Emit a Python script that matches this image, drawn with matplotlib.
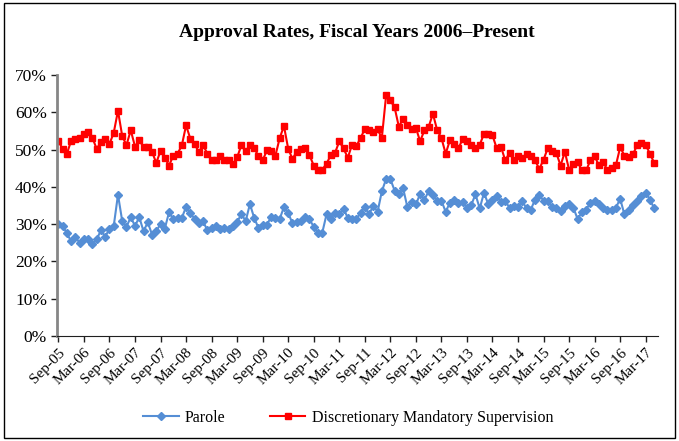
import numpy as np
import matplotlib
matplotlib.use('Agg')
import matplotlib.pyplot as plt
from matplotlib.patches import Rectangle

# === Monthly approval rates (%), Sep-05 .. May-17 ===
parole = [30.0, 29.6, 27.5, 25.4, 26.5, 25.0, 25.9, 25.9, 24.6, 25.9,
          28.4, 26.6, 28.8, 29.5, 37.9, 30.8, 29.3, 31.9, 29.5, 31.9,
          28.1, 30.5, 27.2, 28.1, 30.1, 28.8, 33.2, 31.4, 31.7, 31.7,
          34.6, 33.0, 31.4, 30.2, 30.8, 28.3, 29.0, 29.5, 28.8, 29.0,
          28.8, 29.5, 30.5, 32.8, 30.8, 35.4, 31.7, 29.0, 29.9, 29.9,
          31.9, 31.7, 31.4, 34.6, 33.0, 30.2, 30.6, 30.8, 32.0, 31.3,
          29.3, 27.7, 27.7, 32.6, 31.4, 33.0, 32.6, 34.1, 31.7, 31.3,
          31.4, 33.0, 34.6, 32.6, 35.0, 33.3, 38.8, 42.1, 42.1, 39.0,
          38.2, 39.6, 34.6, 35.9, 35.3, 38.1, 36.6, 38.8, 37.9, 36.3,
          36.3, 33.3, 35.8, 36.6, 35.7, 36.0, 34.4, 35.1, 38.0, 34.2,
          38.4, 35.4, 36.6, 37.5, 36.0, 36.2, 34.4, 34.8, 34.6, 36.2,
          34.2, 33.9, 36.6, 37.8, 36.3, 36.3, 34.6, 34.4, 33.5, 35.0,
          35.4, 34.4, 31.4, 33.2, 33.9, 35.7, 36.2, 35.3, 34.4, 33.8,
          33.8, 34.4, 36.8, 32.6, 33.9, 35.1, 36.2, 37.5, 38.4, 36.6,
          34.2]

dms = [52.2, 50.2, 48.9, 52.4, 52.9, 53.1, 54.3, 54.6, 53.1, 50.2,
       52.0, 52.7, 51.5, 54.5, 60.4, 53.6, 51.2, 55.2, 50.8, 52.5,
       50.7, 50.7, 49.4, 46.4, 49.7, 47.8, 45.7, 48.4, 48.9, 51.1,
       56.5, 52.9, 51.5, 49.3, 51.2, 48.9, 47.3, 47.3, 48.2, 47.1,
       47.1, 46.0, 47.9, 51.2, 49.6, 51.1, 50.5, 48.2, 47.1, 49.8,
       49.6, 48.4, 53.1, 56.3, 50.2, 47.5, 49.4, 50.2, 50.4, 48.5,
       45.7, 44.4, 44.6, 46.2, 48.5, 49.1, 52.2, 50.3, 47.8, 51.3,
       50.9, 53.1, 55.5, 55.2, 54.6, 55.4, 53.1, 64.5, 63.2, 61.3,
       56.1, 58.3, 56.5, 55.6, 55.8, 52.2, 55.2, 56.1, 59.6, 55.2,
       53.1, 48.9, 52.5, 51.5, 50.3, 52.9, 52.2, 51.3, 50.3, 51.3,
       54.2, 54.2, 53.8, 50.3, 50.7, 47.1, 49.1, 47.1, 48.2, 47.8,
       48.8, 48.2, 47.1, 44.8, 47.3, 50.4, 49.5, 49.1, 45.7, 49.4,
       44.6, 46.0, 46.7, 44.4, 44.4, 47.1, 48.2, 45.8, 46.7, 44.5,
       45.1, 45.8, 50.6, 48.4, 47.9, 48.7, 51.2, 51.8, 51.2, 48.9,
       46.4]

tick_labels = ['Sep-05', 'Mar-06', 'Sep-06', 'Mar-07', 'Sep-07', 'Mar-08',
               'Sep-08', 'Mar-09', 'Sep-09', 'Mar-10', 'Sep-10', 'Mar-11',
               'Sep-11', 'Mar-12', 'Sep-12', 'Mar-13', 'Sep-13', 'Mar-14',
               'Sep-14', 'Mar-15', 'Sep-15', 'Mar-16', 'Sep-16', 'Mar-17']

plt.rcParams['font.family'] = ['Liberation Serif', 'DejaVu Serif']

x = np.arange(len(parole))
fig = plt.figure(figsize=(6.79, 4.41), dpi=100)
ax = fig.add_axes([0.0835, 0.238, 0.885, 0.592])

ax.plot(x, parole, color='#558ED5', lw=1.5, marker='D', ms=4.5,
        label='Parole')
ax.plot(x, dms, color='#FF0000', lw=1.5, marker='s', ms=5,
        label='Discretionary Mandatory Supervision')

ax.set_ylim(0, 70)
ax.set_yticks(np.arange(0, 71, 10))
ax.set_yticklabels([f'{v}%' for v in range(0, 71, 10)], fontsize=12.5)
ax.set_xlim(-0.4, 140.8)
ax.set_xticks(np.arange(0, 6 * len(tick_labels), 6))
ax.set_xticklabels(tick_labels, rotation=45, ha='right',
                   rotation_mode='anchor', fontsize=11)

for s in ['top', 'right']:
    ax.spines[s].set_visible(False)
ax.spines['left'].set_color('#868686')
ax.spines['left'].set_linewidth(2)
ax.spines['bottom'].set_color('#202020')
ax.tick_params(axis='both', direction='out', length=4, width=1,
               color='#202020', pad=3)

ax.set_title('Approval Rates, Fiscal Years 2006\u2013Present',
             fontsize=14, fontweight='bold', y=1.115)

fig.legend(loc='center', bbox_to_anchor=(0.513, 0.052), ncol=2,
           frameon=False, fontsize=11.5, handlelength=2.2,
           handletextpad=0.4, columnspacing=2.8)

fig.patches.append(Rectangle((0.006, 0.006), 0.988, 0.988, fill=False,
                             edgecolor='black', lw=1,
                             transform=fig.transFigure, figure=fig))

fig.savefig('out.png', dpi=100)
